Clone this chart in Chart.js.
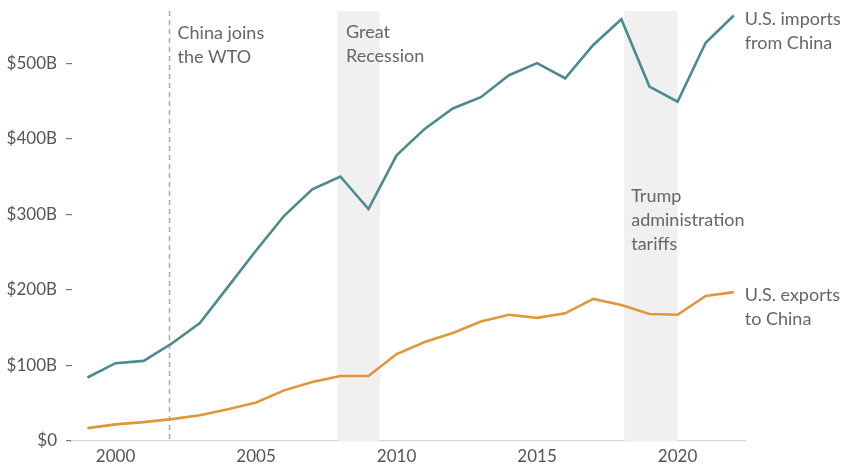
<!DOCTYPE html>
<html>
<head>
<meta charset="utf-8">
<script src="https://cdn.jsdelivr.net/npm/chart.js@4/dist/chart.umd.min.js"></script>
<style>
  html, body { margin: 0; padding: 0; background: #fff; }
  #wrap { width: 842px; height: 470px; }
</style>
</head>
<body>
<div id="wrap"><canvas id="tradeChart"></canvas></div>
<script>
// US-China goods trade, billions of dollars
const years = [1999, 2000, 2001, 2002, 2003, 2004, 2005, 2006, 2007, 2008, 2009, 2010,
               2011, 2012, 2013, 2014, 2015, 2016, 2017, 2018, 2019, 2020, 2021, 2022];
const importsFromChina = [84, 103, 106, 129, 156, 204, 252, 298, 333, 350, 307, 378,
                          413, 440, 455, 484, 500, 480, 524, 558, 469, 449, 527, 563];
const exportsToChina = [17, 22, 25, 29, 34, 42, 51, 67, 78, 86, 86, 115,
                        131, 143, 158, 167, 163, 169, 188, 180, 168, 167, 192, 197];
const yTicks = [0, 100, 200, 300, 400, 500];
const xTicks = [2000, 2005, 2010, 2015, 2020];

// shaded periods and event markers
const bands = [
  { from: 2007.9, to: 2009.4, label: ['Great', 'Recession'], labelYear: 2008.2, labelValue: 541 },
  { from: 2018.1, to: 2020.0, label: ['Trump', 'administration', 'tariffs'], labelYear: 2018.35, labelValue: 324 }
];
const wtoYear = 2001.92;

const FONT = 'Lato, "Noto Sans", sans-serif';
const TEXT = '#666';

const overlayPlugin = {
  id: 'overlay',
  beforeDatasetsDraw(chart) {
    const { ctx, chartArea, scales: { x } } = chart;
    ctx.save();
    ctx.fillStyle = '#f0f0f0';
    bands.forEach(b => {
      const x0 = x.getPixelForValue(b.from);
      const x1 = x.getPixelForValue(b.to);
      ctx.fillRect(x0, chartArea.top, x1 - x0, chartArea.bottom - chartArea.top);
    });
    // WTO accession marker
    const wx = x.getPixelForValue(wtoYear);
    ctx.strokeStyle = '#aaa';
    ctx.lineWidth = 1.5;
    ctx.setLineDash([5, 4]);
    ctx.beginPath();
    ctx.moveTo(wx, chartArea.top);
    ctx.lineTo(wx, chartArea.bottom);
    ctx.stroke();
    ctx.restore();
  },
  afterDatasetsDraw(chart) {
    const { ctx, scales: { x, y } } = chart;
    ctx.save();
    ctx.font = '400 18px ' + FONT;
    ctx.fillStyle = TEXT;
    ctx.textBaseline = 'middle';
    ctx.textAlign = 'left';
    const lh = 24;
    const drawLines = (lines, px, py) => {
      lines.forEach((t, i) => ctx.fillText(t, px, py + i * lh));
    };
    drawLines(['China joins', 'the WTO'], x.getPixelForValue(wtoYear) + 8, 33);
    bands.forEach(b => {
      drawLines(b.label, x.getPixelForValue(b.labelYear), y.getPixelForValue(b.labelValue));
    });
    // series labels at the line ends
    const lastX = x.getPixelForValue(years[years.length - 1]) + 11;
    drawLines(['U.S. imports', 'from China'], lastX, 19);
    drawLines(['U.S. exports', 'to China'], lastX, 295);
    ctx.restore();
  }
};

new Chart(document.getElementById('tradeChart'), {
  type: 'line',
  data: {
    datasets: [
      {
        label: 'U.S. imports from China',
        data: years.map((yr, i) => ({ x: yr, y: importsFromChina[i] })),
        borderColor: '#4b8a8f',
        borderWidth: 2.6,
        pointRadius: 0,
        tension: 0
      },
      {
        label: 'U.S. exports to China',
        data: years.map((yr, i) => ({ x: yr, y: exportsToChina[i] })),
        borderColor: '#e0973b',
        borderWidth: 2.6,
        pointRadius: 0,
        tension: 0
      }
    ]
  },
  options: {
    responsive: true,
    maintainAspectRatio: false,
    animation: false,
    layout: { padding: { left: 0, right: 97, top: 11, bottom: 0 } },
    plugins: {
      legend: { display: false },
      tooltip: { enabled: false }
    },
    scales: {
      x: {
        type: 'linear',
        min: 1998.45,
        max: 2022.4,
        afterBuildTicks(scale) { scale.ticks = xTicks.map(v => ({ value: v })); },
        afterFit(scale) {
          scale.height = 29;
          scale.paddingLeft = 0;
          scale.paddingRight = 0;
        },
        grid: { display: false, drawTicks: false },
        border: { display: true, color: '#d4d4d4', width: 1.2 },
        ticks: {
          padding: 5,
          color: '#555',
          font: { family: FONT, size: 17 },
          callback: v => String(v)
        }
      },
      y: {
        min: 0,
        max: 569,
        afterBuildTicks(scale) { scale.ticks = yTicks.map(v => ({ value: v })); },
        afterFit(scale) {
          scale.width = 72;
          scale.paddingTop = 0;
          scale.paddingBottom = 0;
        },
        grid: { drawOnChartArea: false, drawTicks: true, tickLength: 6, color: '#777', lineWidth: 1.2 },
        border: { display: false },
        ticks: {
          padding: 9,
          color: '#555',
          font: { family: FONT, size: 17 },
          callback: v => v === 0 ? '$0' : '$' + v + 'B'
        }
      }
    }
  },
  plugins: [overlayPlugin]
});
</script>
</body>
</html>
